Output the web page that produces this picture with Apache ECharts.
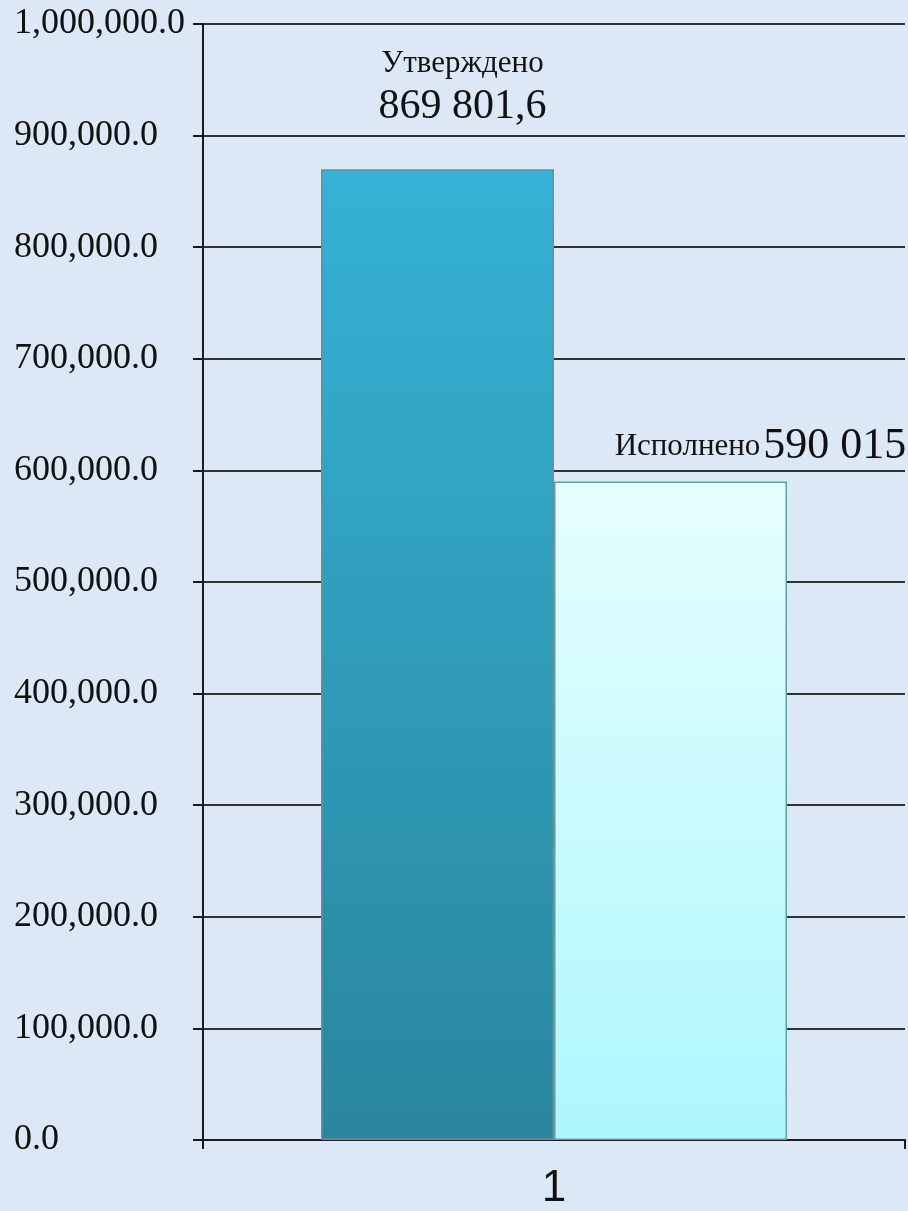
<!DOCTYPE html>
<html>
<head>
<meta charset="utf-8">
<script src="https://cdn.jsdelivr.net/npm/echarts@6/dist/echarts.min.js"></script>
<style>
  html, body { margin: 0; padding: 0; }
  #chart { width: 908px; height: 1211px; }
</style>
</head>
<body>
<div id="chart"></div>
<script>
  // данные
  var categories = ['1'];
  var approved = [869801.6];   // Утверждено
  var executed = [590015];     // Исполнено
  var yTicks = [0, 100000, 200000, 300000, 400000, 500000, 600000, 700000, 800000, 900000, 1000000];

  // 869801.6 -> "869 801,6"
  function formatRu(v) {
    var parts = String(v).split('.');
    var intPart = parts[0].replace(/\B(?=(\d{3})+(?!\d))/g, ' ');
    return parts.length > 1 ? intPart + ',' + parts[1] : intPart;
  }

  var myChart = echarts.init(document.getElementById('chart'));
  var serif = '"Liberation Serif", "DejaVu Serif", serif';

  var option = {
    backgroundColor: '#dce8f5',
    animation: false,
    grid: {
      left: 203,
      right: 3,
      top: 24,
      bottom: 65
    },
    xAxis: {
      type: 'category',
      data: categories,
      axisLine: { show: true, lineStyle: { color: '#1a1a1a', width: 2 } },
      axisTick: { show: true, length: 9, lineStyle: { color: '#1a1a1a', width: 2 } },
      axisLabel: {
        margin: 27,
        fontSize: 44,
        color: '#111',
        fontFamily: '"Liberation Sans", Arial, sans-serif'
      },
      splitLine: { show: false }
    },
    yAxis: {
      type: 'value',
      min: yTicks[0],
      max: yTicks[yTicks.length - 1],
      interval: 100000,
      axisLine: { show: true, lineStyle: { color: '#1a1a1a', width: 2 } },
      axisTick: { show: true, inside: false, length: 10, lineStyle: { color: '#1a1a1a', width: 2 } },
      axisLabel: {
        align: 'left',
        margin: 189,
        fontSize: 36,
        color: '#111',
        fontFamily: serif,
        formatter: function (v) {
          return v.toLocaleString('en-US', { minimumFractionDigits: 1, maximumFractionDigits: 1 });
        }
      },
      splitLine: { show: true, lineStyle: { color: '#333', width: 2 } }
    },
    series: [
      {
        name: 'Утверждено',
        type: 'bar',
        data: approved,
        barWidth: 233,
        barGap: '0%',
        itemStyle: {
          color: new echarts.graphic.LinearGradient(0, 0, 0, 1, [
            { offset: 0, color: '#35b2d6' },
            { offset: 1, color: '#2a869e' }
          ]),
          borderColor: '#6f8c98',
          borderWidth: 1.5
        },
        label: {
          show: true,
          position: 'top',
          distance: 40,
          offset: [25, 0],
          color: '#111',
          fontFamily: serif,
          formatter: function (p) {
            return '{a|' + p.seriesName + '}\n{b|' + formatRu(p.value) + '}';
          },
          rich: {
            a: { fontSize: 31, lineHeight: 42, fontFamily: serif, color: '#111' },
            b: { fontSize: 42, lineHeight: 44, fontFamily: serif, color: '#111' }
          }
        }
      },
      {
        name: 'Исполнено',
        type: 'bar',
        data: executed,
        barWidth: 233,
        itemStyle: {
          color: new echarts.graphic.LinearGradient(0, 0, 0, 1, [
            { offset: 0, color: '#e6feff' },
            { offset: 1, color: '#adf7fc' }
          ]),
          borderColor: '#5fa0a6',
          borderWidth: 1.5
        },
        label: {
          show: true,
          position: 'top',
          distance: 13,
          offset: [90, 0],
          color: '#111',
          fontFamily: serif,
          formatter: function (p) {
            return '{a|' + p.seriesName + '} {b|' + formatRu(p.value) + '}';
          },
          rich: {
            a: { fontSize: 31, fontFamily: serif, color: '#111' },
            b: { fontSize: 44, fontFamily: serif, color: '#111' }
          }
        }
      }
    ]
  };

  myChart.setOption(option);
</script>
</body>
</html>
